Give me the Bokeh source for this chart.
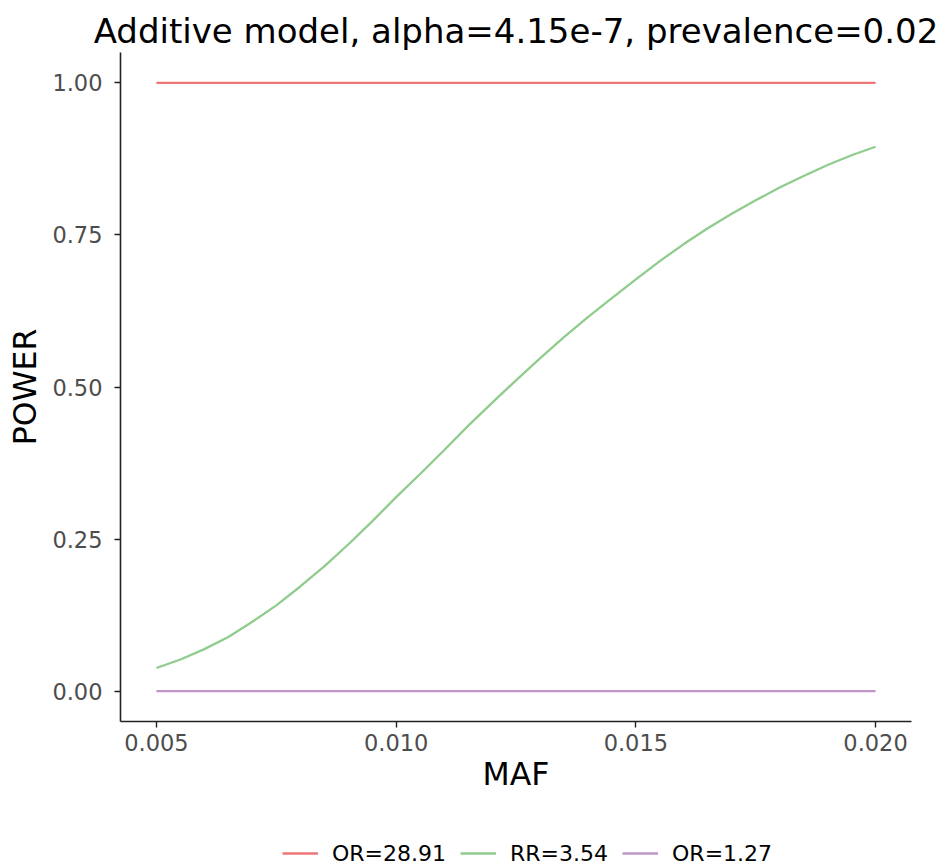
from bokeh.plotting import figure
from bokeh.layouts import column
from bokeh.models import Range1d, FixedTicker, PrintfTickFormatter, Legend, LegendItem
from bokeh.embed import file_html
from bokeh.resources import INLINE

# ---- data ----
maf = [0.0050, 0.0055, 0.0060, 0.0065, 0.0070, 0.0075, 0.0080, 0.0085, 0.0090, 0.0095,
       0.0100, 0.0105, 0.0110, 0.0115, 0.0120, 0.0125, 0.0130, 0.0135, 0.0140, 0.0145,
       0.0150, 0.0155, 0.0160, 0.0165, 0.0170, 0.0175, 0.0180, 0.0185, 0.0190, 0.0195,
       0.0200]
power_or_28_91 = [1.0] * len(maf)
power_rr_3_54 = [0.038, 0.052, 0.069, 0.089, 0.114, 0.141, 0.172, 0.205, 0.241, 0.279,
                 0.319, 0.357, 0.396, 0.436, 0.474, 0.511, 0.547, 0.582, 0.615, 0.646,
                 0.677, 0.707, 0.735, 0.761, 0.785, 0.807, 0.828, 0.847, 0.865, 0.881,
                 0.895]
power_or_1_27 = [0.0] * len(maf)
series_labels = ["OR=28.91", "RR=3.54", "OR=1.27"]
x_ticks = [0.005, 0.010, 0.015, 0.020]
y_ticks = [0.00, 0.25, 0.50, 0.75, 1.00]

FONT = "DejaVu Sans"
colors = ["#EF7677", "#8FCC8D", "#C195C8"]
series = [power_or_28_91, power_rr_3_54, power_or_1_27]

MAIN_H = 805
TOTAL_H = 867

p = figure(width=944, height=MAIN_H, output_backend="svg", toolbar_location=None,
           x_range=Range1d(0.00425, 0.02075), y_range=Range1d(-0.05, 1.05),
           min_border_left=120, min_border_right=33, min_border_top=52,
           min_border_bottom=MAIN_H - 721)
p.background_fill_color = "white"
p.border_fill_color = "white"
p.outline_line_color = None
p.xgrid.visible = False
p.ygrid.visible = False

p.title.text = "Additive model, alpha=4.15e-7, prevalence=0.02"
p.title.text_font = FONT
p.title.text_font_size = "34px"
p.title.text_font_style = "normal"
p.title.text_color = "black"
p.title.align = "center"
p.title.standoff = 4

for ys, c in zip(series, colors):
    p.line(maf, ys, line_color=c, line_width=2.3)

for ax in (p.xaxis[0], p.yaxis[0]):
    ax.axis_line_color = "#222222"
    ax.axis_line_width = 1.6
    ax.major_tick_line_color = "#222222"
    ax.major_tick_line_width = 1.4
    ax.major_tick_out = 6
    ax.major_tick_in = 0
    ax.minor_tick_out = 0
    ax.minor_tick_in = 0
    ax.major_label_text_font = FONT
    ax.major_label_text_font_size = "22.5px"
    ax.major_label_text_color = "#4D4D4D"
    ax.axis_label_text_font = FONT
    ax.axis_label_text_font_size = "31.5px"
    ax.axis_label_text_font_style = "normal"
    ax.axis_label_text_color = "black"

p.xaxis.ticker = FixedTicker(ticks=x_ticks)
p.xaxis.formatter = PrintfTickFormatter(format="%.3f")
p.yaxis.ticker = FixedTicker(ticks=y_ticks)
p.yaxis.formatter = PrintfTickFormatter(format="%.2f")
p.xaxis.axis_label = "MAF"
p.yaxis.axis_label = "POWER"
p.xaxis.major_label_standoff = 6
p.yaxis.major_label_standoff = 12
p.xaxis.axis_label_standoff = 2
p.yaxis.axis_label_standoff = 6

# ---- legend strip below the plot (its series sit outside its visible range) ----
lg = figure(width=944, height=TOTAL_H - MAIN_H, output_backend="svg", toolbar_location=None,
            x_range=Range1d(0.00425, 0.02075), y_range=Range1d(10, 11),
            x_axis_location=None, y_axis_location=None,
            min_border_left=120, min_border_right=33, min_border_top=0, min_border_bottom=0)
lg.outline_line_color = None
lg.xgrid.visible = False
lg.ygrid.visible = False
lg.background_fill_color = "white"
lg.border_fill_color = "white"

key_renderers = [lg.line(maf, ys, line_color=c, line_width=2.3) for ys, c in zip(series, colors)]
legend = Legend(items=[LegendItem(label=l, renderers=[r]) for l, r in zip(series_labels, key_renderers)],
                orientation="horizontal", location=(162, 1),
                glyph_width=36, glyph_height=20, label_height=26, label_standoff=14, spacing=14,
                padding=0, margin=0, border_line_color=None, background_fill_alpha=0,
                label_text_font=FONT, label_text_font_size="22px", label_text_color="black")
lg.add_layout(legend, "center")

layout = column(p, lg, spacing=0)
open("out.html", "w").write(file_html(layout, INLINE))
